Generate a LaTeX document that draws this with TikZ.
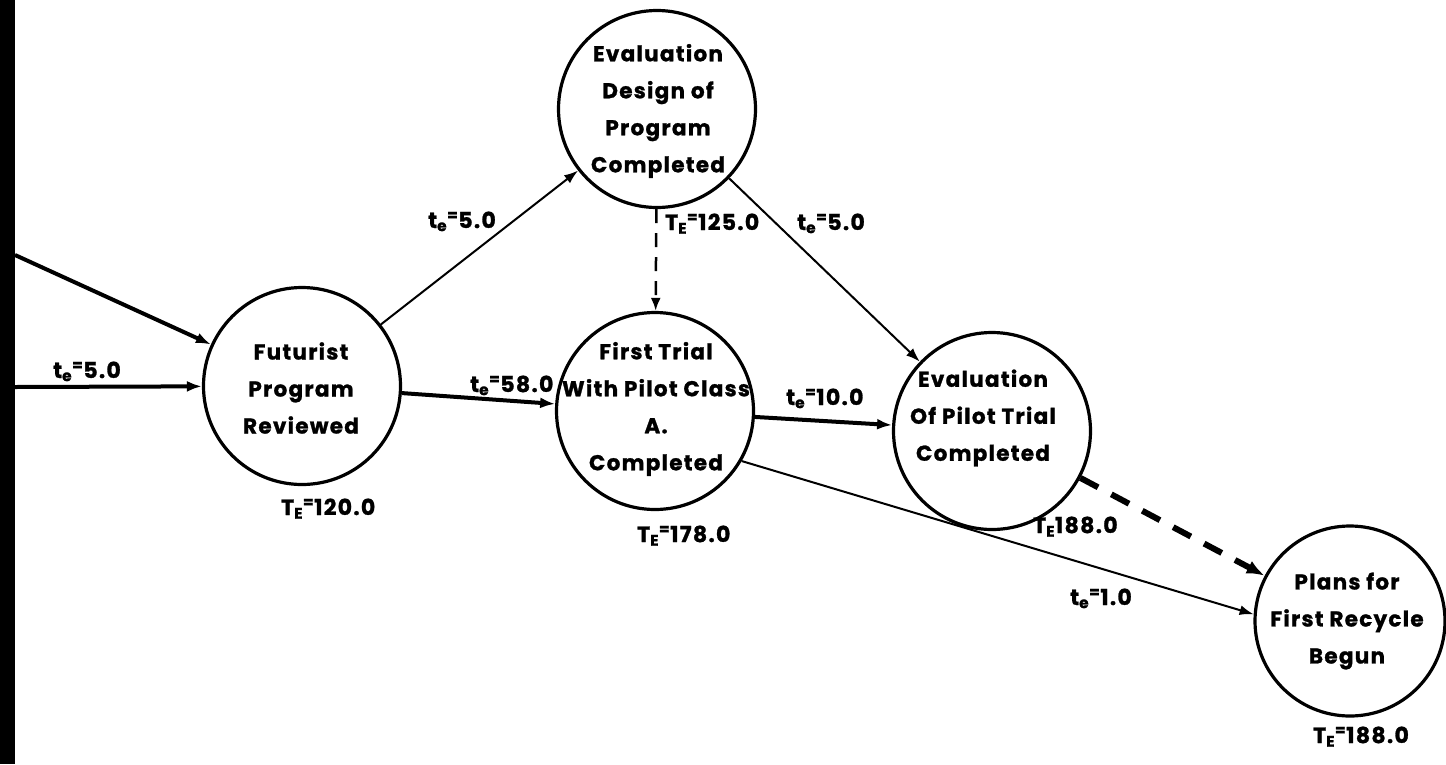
\documentclass[tikz,border=0pt]{standalone}
\usepackage{fontspec}
\setmainfont{Poppins}[BoldFeatures={FakeBold=1.2, LetterSpace=6}]
\usetikzlibrary{arrows.meta,calc}

\tikzset{
  evt/.style={circle, draw, line width=3.2pt, minimum size=197pt, inner sep=0pt},
  evttext/.style={align=center, font=\fontsize{21.5}{37}\selectfont\bfseries},
  lbl/.style={anchor=base west, inner sep=0pt, font=\fontsize{22}{25}\selectfont\bfseries},
  heavy/.style={line width=4pt, -{Latex[length=15pt,width=11pt]}},
  light/.style={line width=2pt, -{Latex[length=14pt,width=10pt]}},
  dummy/.style={line width=2.5pt, dash pattern=on 14pt off 10pt, -{Latex[length=13pt,width=10pt]}},
  heavydummy/.style={line width=6pt, dash pattern=on 20pt off 15pt, -{Latex[length=18pt,width=14pt]}}
}

\newcommand{\tev}[1]{t\textsubscript{e}\textsuperscript{=}#1}
\newcommand{\TEv}[1]{T\textsubscript{E}\textsuperscript{=}#1}

\begin{document}
\begin{tikzpicture}[x=1pt, y=-1pt]
  \useasboundingbox (0,0) rectangle (1446,764);

  % heavy bar along the left margin where the incoming activities start
  \fill (0,0) rectangle (15,764);
  \coordinate (in1) at (15,255);
  \coordinate (in2) at (15,387);

  % events
  \node[evt] (fut) at (302,386) {};
  \node[evt] (edp) at (657,109) {};
  \node[evt] (ft)  at (655,411) {};
  \node[evt] (ep)  at (992,431) {};
  \node[evt, minimum size=190pt] (pl) at (1350,621) {};

  \node[evttext] (futt) at (301,388) {Futurist\\Program\\Reviewed};
  \node[evttext] (edpt) at (658,111) {Evaluation\\Design of\\Program\\Completed};
  \node[evttext] (ftt)  at (656,409) {First Trial\\With Pilot Class\\A.\\Completed};
  \node[evttext] (ept)  at (983,418) {Evaluation\\Of Pilot Trial\\Completed};
  \node[evttext] (plt)  at (1347,621) {Plans for\\First Recycle\\Begun};

  % activities
  \draw[heavy] (in1) -- (fut);
  \draw[heavy] (in2) -- (fut);
  \draw[light] (fut) -- (edp);
  \draw[heavy] (fut) -- (ft);
  \draw[dummy] (edp) -- (ft);
  \draw[light] (edp) -- (ep);
  \draw[heavy] (ft) -- (ep);
  \draw[light] (ft.-30) -- (pl.176);
  \draw[heavydummy] (ep) -- (pl);

  % expected times
  \node[lbl] (l1)  at (53,378)   {\tev{5.0}};
  \node[lbl] (l2)  at (428,228)  {\tev{5.0}};
  \node[lbl] (l3)  at (665,230)  {\TEv{125.0}};
  \node[lbl] (l4)  at (797,230)  {\tev{5.0}};
  \node[lbl] (l5)  at (470,392)  {\tev{58.0}};
  \node[lbl] (l6)  at (786,405)  {\tev{10.0}};
  \node[lbl] (l7)  at (281,515)  {\TEv{120.0}};
  \node[lbl] (l8)  at (637,542)  {\TEv{178.0}};
  \node[lbl] (l9)  at (1033,533) {T\textsubscript{E}188.0};
  \node[lbl] (l10) at (1070,605) {\tev{1.0}};
  \node[lbl] (l11) at (1313,743) {\TEv{188.0}};
\end{tikzpicture}
\end{document}
